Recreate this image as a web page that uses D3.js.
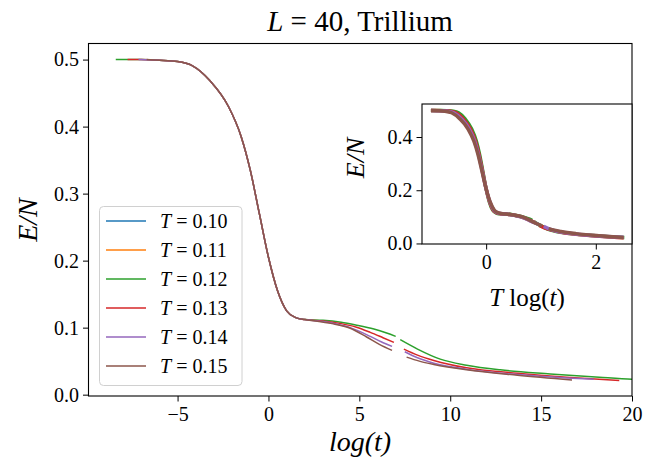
<!DOCTYPE html>
<html>
<head>
<meta charset="utf-8">
<script src="https://cdn.jsdelivr.net/npm/d3@7"></script>
<style>
  body { margin: 0; background: #fff; }
  svg, svg text { font-family: "Liberation Serif", "DejaVu Serif", serif; }
</style>
</head>
<body>
<svg id="chart" width="646" height="466"></svg>
<script>
// temperatures and legend colours (matplotlib tab10)
const temps = [0.10, 0.11, 0.12, 0.13, 0.14, 0.15];
const colors = ['#1f77b4', '#ff7f0e', '#2ca02c', '#d62728', '#9467bd', '#8c564b'];

// shared early decay, [log(t), E/N]
const earlyPart = [[-6, 0.499], [-5, 0.497], [-4.2, 0.491], [-3.2, 0.468], [-2.2, 0.43],
  [-1.5, 0.385], [-1.0, 0.335], [-0.5, 0.27], [0, 0.205], [0.5, 0.155], [1.0, 0.125],
  [1.5, 0.115], [2.0, 0.112]];

// T = 0.10 and 0.11 show up only in the legend
const seriesT010 = [];
const seriesT011 = [];
// null marks the gap in the data near log(t) = 7.3
const seriesT012 = [[-8.4, 0.5], [-7, 0.5], ...earlyPart, [3.0, 0.111], [4.0, 0.108], [4.8, 0.104],
  [5.8, 0.098], [6.5, 0.092], [7.0, 0.087], null, [7.25, 0.082], [8.2, 0.068], [9.45, 0.053],
  [10.9, 0.044], [12.75, 0.037], [15.5, 0.031], [18.2, 0.026], [20, 0.023], [21, 0.022]];
const seriesT013 = [[-7.75, 0.5], [-7, 0.5], ...earlyPart, [3.0, 0.110], [4.0, 0.106], [4.8, 0.101],
  [5.6, 0.093], [6.3, 0.085], [6.9, 0.078], null, [7.45, 0.068], [8.2, 0.059], [9.1, 0.051],
  [10.9, 0.040], [13.7, 0.032], [16.4, 0.026], [19.3, 0.021]];
const seriesT014 = [[-7.15, 0.5], ...earlyPart, [3.0, 0.109], [3.8, 0.105], [4.5, 0.100],
  [5.6, 0.087], [6.2, 0.079], [6.8, 0.072], null, [7.5, 0.064], [8.2, 0.055], [9.1, 0.047],
  [10.9, 0.038], [13.7, 0.030], [16.4, 0.025], [17.9, 0.023]];
const seriesT015 = [[-6.7, 0.5], ...earlyPart, [2.6, 0.110], [3.5, 0.106], [4.5, 0.099],
  [5.4, 0.086], [6.1, 0.075], [6.8, 0.066], null, [7.6, 0.056], [8.3, 0.050], [9.1, 0.045],
  [10.9, 0.037], [13.7, 0.029], [16.7, 0.022]];
const allSeries = [seriesT010, seriesT011, seriesT012, seriesT013, seriesT014, seriesT015];

const mainXTicks = [-5, 0, 5, 10, 15, 20];
const mainYTicks = [0.0, 0.1, 0.2, 0.3, 0.4, 0.5];
const insetXTicks = [0, 2];
const insetYTicks = [0.0, 0.2, 0.4];

const serif = '"Liberation Serif", "DejaVu Serif", serif';
const svg = d3.select('#chart');
const fmtMinus = d => d3.format('d')(d).replace('-', '\u2212');

// main axes
const x = d3.scaleLinear().domain([-9.9, 20]).range([88.5, 632]);
const y = d3.scaleLinear().domain([-0.002, 0.524]).range([396, 43.5]);

svg.append('clipPath').attr('id', 'mainClip')
  .append('rect').attr('x', 88.5).attr('y', 43.5).attr('width', 543.5).attr('height', 352.5);

const line = d3.line()
  .defined(d => d !== null)
  .x(d => x(d[0]))
  .y(d => y(d[1]))
  .curve(d3.curveMonotoneX);

svg.append('g').attr('clip-path', 'url(#mainClip)')
  .selectAll('path')
  .data(allSeries)
  .enter().append('path')
  .attr('d', line)
  .attr('fill', 'none')
  .attr('stroke', (d, i) => colors[i])
  .attr('stroke-width', 1.5);

function styleAxis(g) {
  g.attr('font-family', serif).attr('font-size', 20);
  g.select('.domain').remove();
  g.selectAll('.tick line').attr('stroke', '#000').attr('stroke-width', 1);
  g.selectAll('.tick text').attr('fill', '#000')
    .style('font-family', serif).style('font-size', '20px');
}

svg.append('g')
  .attr('transform', 'translate(0,396)')
  .call(d3.axisBottom(x).tickValues(mainXTicks).tickFormat(fmtMinus).tickSize(5.5).tickPadding(5))
  .call(styleAxis);

svg.append('g')
  .attr('transform', 'translate(88.5,0)')
  .call(d3.axisLeft(y).tickValues(mainYTicks).tickFormat(d3.format('.1f')).tickSize(5.5).tickPadding(4))
  .call(styleAxis);

svg.append('rect')
  .attr('x', 88.5).attr('y', 43.5).attr('width', 543.5).attr('height', 352.5)
  .attr('fill', 'none').attr('stroke', '#000').attr('stroke-width', 1.1);

// title and labels
const title = svg.append('text').attr('x', 360).attr('y', 31).attr('text-anchor', 'middle')
  .style('font-size', '29px');
title.append('tspan').style('font-style', 'italic').text('L');
title.append('tspan').text(' = 40, Trillium');

svg.append('text').attr('x', 360).attr('y', 451).attr('text-anchor', 'middle')
  .style('font-size', '28px').style('font-style', 'italic').text('log(t)');

svg.append('text')
  .attr('transform', 'translate(37,220) rotate(-90)')
  .attr('text-anchor', 'middle')
  .style('font-size', '28px').style('font-style', 'italic').text('E/N');

// legend
const legend = svg.append('g');
legend.append('rect')
  .attr('x', 99.5).attr('y', 206.5).attr('width', 142.5).attr('height', 179)
  .attr('rx', 4).attr('fill', '#fff').attr('fill-opacity', 0.8)
  .attr('stroke', '#d0d0d0').attr('stroke-width', 1);
temps.forEach((t, i) => {
  const ly = 221 + i * 29;
  legend.append('line')
    .attr('x1', 106).attr('x2', 146).attr('y1', ly).attr('y2', ly)
    .attr('stroke', colors[i]).attr('stroke-width', 1.5);
  const lt = legend.append('text').attr('x', 160).attr('y', ly + 6.5).style('font-size', '20px');
  lt.append('tspan').style('font-style', 'italic').text('T');
  lt.append('tspan').text(' = ' + d3.format('.2f')(t));
});

// inset: E/N against T log(t)
const ix = d3.scaleLinear().domain([-1.17, 2.66]).range([422, 632]);
const iy = d3.scaleLinear().domain([-0.002, 0.524]).range([244, 104]);

const inset = svg.append('g');
inset.append('rect')
  .attr('x', 422).attr('y', 104).attr('width', 210).attr('height', 140)
  .attr('fill', '#fff');

const insetLine = d3.line()
  .defined(d => d !== null)
  .x(d => ix(d[0]))
  .y(d => iy(d[1]))
  .curve(d3.curveMonotoneX);

inset.selectAll('path.curve')
  .data(allSeries.map((s, i) => s.map(p => p === null ? null : [temps[i] * p[0], p[1]])))
  .enter().append('path')
  .attr('class', 'curve')
  .attr('d', insetLine)
  .attr('fill', 'none')
  .attr('stroke', (d, i) => colors[i])
  .attr('stroke-width', 3.5);

inset.append('g')
  .attr('transform', 'translate(0,244)')
  .call(d3.axisBottom(ix).tickValues(insetXTicks).tickFormat(d3.format('d')).tickSize(5.5).tickPadding(5))
  .call(styleAxis);

inset.append('g')
  .attr('transform', 'translate(422,0)')
  .call(d3.axisLeft(iy).tickValues(insetYTicks).tickFormat(d3.format('.1f')).tickSize(5.5).tickPadding(4))
  .call(styleAxis);

inset.append('rect')
  .attr('x', 422).attr('y', 104).attr('width', 210).attr('height', 140)
  .attr('fill', 'none').attr('stroke', '#000').attr('stroke-width', 1.1);

const ixl = inset.append('text').attr('x', 527).attr('y', 306).attr('text-anchor', 'middle')
  .style('font-size', '25px');
ixl.append('tspan').style('font-style', 'italic').text('T');
ixl.append('tspan').text(' log(');
ixl.append('tspan').style('font-style', 'italic').text('t');
ixl.append('tspan').text(')');

inset.append('text')
  .attr('transform', 'translate(364,158) rotate(-90)')
  .attr('text-anchor', 'middle')
  .style('font-size', '26px').style('font-style', 'italic').text('E/N');
</script>
</body>
</html>
